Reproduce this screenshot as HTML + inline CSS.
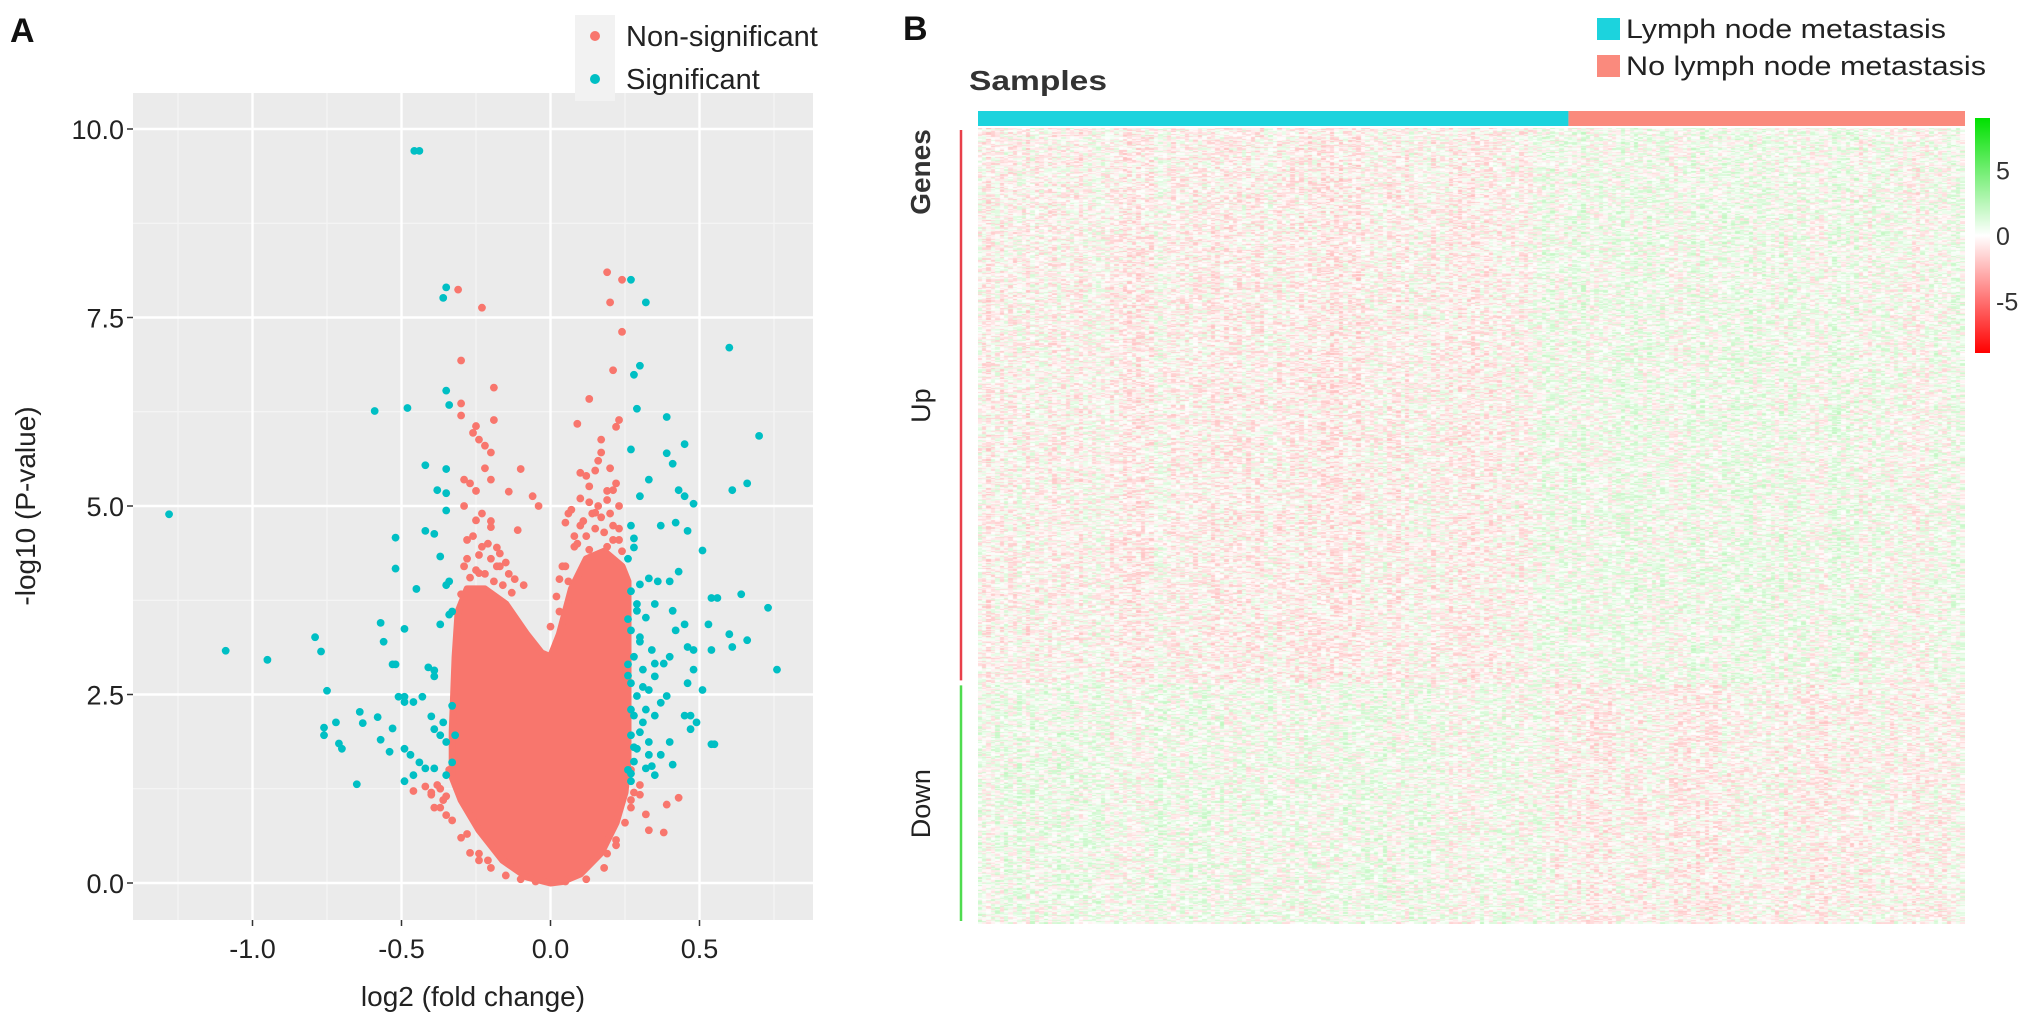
<!DOCTYPE html>
<html><head><meta charset="utf-8">
<style>
html,body{margin:0;padding:0;background:#fff;}
#root{position:relative;width:2031px;height:1029px;overflow:hidden;font-family:"Liberation Sans",sans-serif;}
svg{position:absolute;left:0;top:0;}
#heat{position:absolute;left:978px;top:128px;}
</style></head>
<body>
<div id="root">
<svg id="svg" width="2031" height="1029"></svg>
<canvas id="heat" width="987" height="796"></canvas>
</div>
<script>
// ---------- Panel A data (log2 fold change, -log10 P) ----------
const xTicks = [-1.0, -0.5, 0.0, 0.5];
const yTicks = [0.0, 2.5, 5.0, 7.5, 10.0];
const xTickLabels = ["-1.0", "-0.5", "0.0", "0.5"];
const yTickLabels = ["0.0", "2.5", "5.0", "7.5", "10.0"];
// dense non-significant core (envelope of overlapping points)
const coreX = [0,-0.08,-0.16,-0.24,-0.3,-0.33,-0.33,-0.32,-0.31,-0.28,-0.22,-0.15,-0.08,-0.03,0.0,0.03,0.07,0.12,0.18,0.24,0.26,0.26,0.26,0.25,0.22,0.17,0.1,0.04];
const coreY = [0.0,0.08,0.3,0.7,1.1,1.4,2.0,3.0,3.6,3.9,3.9,3.7,3.3,3.05,3.0,3.3,3.9,4.3,4.4,4.2,4.0,3.0,1.6,1.2,0.8,0.4,0.12,0.02];
const nsX = [-0.31,-0.23,-0.30,-0.19,-0.30,-0.30,-0.25,-0.19,-0.26,-0.24,-0.22,-0.20,-0.10,-0.29,-0.27,-0.20,-0.14,-0.06,-0.04,-0.29,-0.25,-0.20,-0.11,-0.28,-0.23,-0.17,-0.29,-0.24,-0.18,-0.12,-0.09,-0.30,
 0.19,0.24,0.20,0.24,0.21,0.13,0.23,0.09,0.22,0.17,0.17,0.10,0.15,0.13,0.21,0.06,0.05,0.10,0.15,0.21,0.23,0.19,0.08,0.13,0.19,0.23,0.04,0.03,
 -0.46,-0.40,-0.39,-0.33,-0.28,-0.24,-0.21,0.19,0.22,0.30,0.32,0.38,0.43,0.39,0.30,-0.35,-0.37,-0.42,0.27,0.33,
 -0.27,-0.25,-0.22,-0.19,-0.16,-0.13,-0.28,-0.24,-0.2,-0.17,-0.14,-0.26,-0.21,-0.18,-0.15,-0.23,-0.2,-0.25,-0.22,
 0.0,0.03,0.06,0.09,0.12,0.15,0.18,0.21,0.24,0.02,0.05,0.08,0.11,0.14,0.17,0.2,0.23,0.07,0.1,0.13,0.16,0.19,0.22,0.12,0.16,0.2,
 -0.38,-0.36,-0.35,-0.34,-0.4,-0.37,-0.3,-0.27,-0.24,-0.2,-0.15,-0.1,0.12,0.18,0.22,0.25,0.27,0.28,0.27,-0.05,0.05];
const nsY = [7.87,7.63,6.93,6.57,6.36,6.2,6.06,6.14,5.97,5.88,5.8,5.71,5.49,5.35,5.3,5.35,5.19,5.13,5.0,5.0,4.81,4.72,4.68,4.55,4.46,4.37,4.2,4.11,4.2,4.03,3.95,3.83,
 8.1,8.0,7.7,7.31,6.8,6.42,6.14,6.09,6.05,5.88,5.71,5.44,5.47,5.26,5.21,4.9,4.78,4.74,4.91,4.74,5.0,5.08,4.46,4.42,4.46,4.55,4.2,4.03,
 1.22,1.17,1.0,0.83,0.65,0.39,0.3,0.39,0.57,1.17,0.91,0.67,1.13,1.04,1.3,1.15,1.25,1.28,1.1,0.7,
 4.05,4.15,4.1,4.0,3.95,3.85,4.3,4.35,4.3,4.2,4.1,4.6,4.5,4.45,4.25,4.9,4.8,5.2,5.5,
 3.4,3.6,4.0,4.5,4.6,4.7,4.65,4.55,4.4,3.8,4.2,4.6,4.8,4.9,4.85,4.9,4.7,4.95,5.1,5.05,5.0,5.2,5.3,5.4,5.6,5.5,
 1.3,1.1,0.9,1.5,1.2,1.0,0.6,0.4,0.3,0.2,0.1,0.05,0.05,0.2,0.5,0.8,1.0,1.2,1.5,0.02,0.02];
const sigX = [-0.457,-0.44,-1.28,-1.09,-0.95,-0.79,-0.77,-0.75,-0.76,-0.72,-0.76,-0.71,-0.70,-0.65,-0.64,-0.63,-0.58,-0.57,-0.54,-0.53,-0.59,-0.48,
 -0.57,-0.56,-0.49,-0.53,-0.52,-0.51,-0.49,-0.49,-0.46,-0.43,-0.49,-0.46,-0.44,-0.47,-0.49,-0.42,-0.40,-0.39,-0.37,-0.35,-0.36,-0.33,-0.32,-0.39,-0.35,-0.33,
 -0.41,-0.39,-0.39,-0.37,-0.34,-0.33,-0.35,-0.34,-0.52,-0.52,-0.45,-0.42,-0.39,-0.37,-0.42,-0.38,-0.35,-0.35,-0.35,-0.35,-0.34,-0.36,-0.35,
 0.27,0.32,0.28,0.30,0.29,0.60,0.70,0.66,0.61,0.39,0.27,0.39,0.41,0.45,0.33,0.30,0.43,0.45,0.48,0.46,0.42,0.37,0.51,0.27,0.28,
 0.27,0.30,0.33,0.36,0.29,0.32,0.35,0.27,0.30,0.34,0.28,0.31,0.35,0.38,0.27,0.29,0.33,0.37,0.28,0.31,0.35,0.27,0.29,0.33,0.37,0.28,0.32,0.40,0.41,0.35,0.27,
 0.35,0.39,0.40,0.41,0.40,0.43,0.42,0.45,0.46,0.48,0.46,0.48,0.51,0.47,0.49,0.47,0.45,0.54,0.55,0.53,0.54,0.54,0.56,0.60,0.61,0.64,0.66,0.73,0.76,
 0.26,0.26,0.27,0.28,0.26,0.29,0.31,0.30,0.33,0.26,0.28,0.30,0.32,0.34,0.26,0.27];
const sigY = [9.71,9.71,4.89,3.08,2.96,3.26,3.07,2.55,2.06,2.13,1.96,1.85,1.78,1.31,2.27,2.12,2.2,1.9,1.74,2.05,6.26,6.3,
 3.45,3.2,3.37,2.9,2.9,2.47,2.47,2.4,2.4,2.47,1.35,1.43,1.6,1.7,1.78,1.52,2.21,2.04,1.96,1.87,2.13,2.35,1.96,1.52,1.43,1.6,
 2.86,2.74,2.82,3.43,3.56,3.6,3.95,4.0,4.58,4.17,3.9,4.67,4.63,4.33,5.54,5.21,5.17,4.94,5.49,6.53,6.34,7.76,7.9,
 8.0,7.7,6.74,6.86,6.29,7.1,5.93,5.3,5.21,6.18,5.75,5.7,5.56,5.82,5.35,5.13,5.21,5.13,5.03,4.67,4.78,4.74,4.41,4.74,4.57,
 3.87,3.96,4.04,4.0,3.61,3.52,3.7,3.35,3.26,3.09,3.0,2.83,2.74,2.91,2.65,2.48,2.56,2.39,2.22,2.13,2.22,1.96,1.78,1.87,1.7,1.61,1.52,1.87,1.57,1.43,1.35,
 2.91,2.48,3.0,3.61,4.0,4.13,3.35,3.43,3.13,3.09,2.65,2.83,2.56,2.22,2.13,2.04,2.22,1.84,1.84,3.43,3.09,3.78,3.78,3.3,3.13,3.83,3.22,3.65,2.83,
 3.5,2.9,2.3,1.8,1.5,3.7,2.6,2.0,1.7,4.3,4.45,3.2,2.3,1.55,2.75,1.45];

// ---------- Panel B data ----------
const groups = ["Lymph node metastasis", "No lymph node metastasis"];
const groupSamples = [134, 90];
const geneBlocks = ["Up", "Down"];
const geneBlockSizes = [450, 195];
const colorbarTicks = [5, 0, -5];
// coarse per-sample-bin expression bias (mean z) for Up genes; Down genes are the inverse
const sampleBias = [-0.3,-0.25,-0.35,-0.2,-0.3,-0.25,-0.4,-0.3,-0.25,-0.35,-0.45,-0.3,-0.25,-0.2,-0.3,-0.15,
                    0.25,0.35,0.3,0.25,0.4,0.3,0.2,0.25,0.3,0.15,0.1,0.2];

const NS = "http://www.w3.org/2000/svg";
const svg = document.getElementById('svg');
function el(tag, attrs, parent) {
  const e = document.createElementNS(NS, tag);
  for (const k in attrs) e.setAttribute(k, attrs[k]);
  (parent || svg).appendChild(e);
  return e;
}
function txt(s, attrs, parent) { const t = el('text', attrs, parent); t.textContent = s; return t; }

// ---------- Panel A ----------
const PX0 = 133, PX1 = 813, PY0 = 93, PY1 = 920;
const sx = v => 550.5 + v * 298;
const sy = v => 883 - v * 75.4;
const gA = el('g', {});


const bg = el('rect', {x: PX0, y: PY0, width: PX1 - PX0, height: PY1 - PY0, fill: '#EBEBEB'}, gA);


for (let i = 0; i < xTicks.length + 1; i++) {
  const v = (i === 0 ? xTicks[0] - 0.25 : xTicks[i - 1] + 0.25);
  el('line', {x1: sx(v), x2: sx(v), y1: PY0, y2: PY1, stroke: '#F5F5F5', 'stroke-width': 1.2}, gA);
}
for (let i = 0; i < yTicks.length; i++) {
  const v = yTicks[i] + 1.25;
  if (sy(v) > PY0) el('line', {x1: PX0, x2: PX1, y1: sy(v), y2: sy(v), stroke: '#F5F5F5', 'stroke-width': 1.2}, gA);
}
xTicks.forEach((v, i) => {
  const gl = el('line', {x1: sx(v), x2: sx(v), y1: PY0, y2: PY1, stroke: '#fff', 'stroke-width': 2.4}, gA);
  
  
  el('line', {x1: sx(v), x2: sx(v), y1: PY1, y2: PY1 + 6, stroke: '#333', 'stroke-width': 1.5}, gA);
  const t = txt(xTickLabels[i], {x: sx(v), y: PY1 + 38, 'font-size': 27, fill: '#222', 'text-anchor': 'middle'}, gA);
  
  
});
yTicks.forEach((v, i) => {
  const gl = el('line', {x1: PX0, x2: PX1, y1: sy(v), y2: sy(v), stroke: '#fff', 'stroke-width': 2.4}, gA);
  
  
  el('line', {x1: PX0 - 6, x2: PX0, y1: sy(v), y2: sy(v), stroke: '#333', 'stroke-width': 1.5}, gA);
  const t = txt(yTickLabels[i], {x: PX0 - 9, y: sy(v) + 10, 'font-size': 27, fill: '#222', 'text-anchor': 'end'}, gA);
  
  
});
let d = coreX.map((x, i) => (i ? 'L' : 'M') + sx(x).toFixed(1) + ',' + sy(coreY[i]).toFixed(1)).join(' ') + ' Z';
const core = el('path', {d: d, fill: '#F8766D', stroke: '#F8766D', 'stroke-width': 7, 'stroke-linejoin': 'round'}, gA);


nsX.forEach((x, i) => {
  const c = el('circle', {cx: sx(x), cy: sy(nsY[i]), r: 3.9, fill: '#F8766D'}, gA);
  
  
});
sigX.forEach((x, i) => {
  const c = el('circle', {cx: sx(x), cy: sy(sigY[i]), r: 3.9, fill: '#00BFC4'}, gA);
  
  
});
let t;
t = txt('log2 (fold change)', {x: 473, y: 1006, 'font-size': 28, fill: '#222', 'text-anchor': 'middle'});
 
t = txt('-log10 (P-value)', {x: 0, y: 0, 'font-size': 28, fill: '#222', 'text-anchor': 'middle', transform: 'translate(35,506) rotate(-90)'});
 
t = txt('A', {x: 10, y: 42, 'font-size': 34, 'font-weight': 'bold', fill: '#111'});
 
const lgA = el('g', {});
 
el('rect', {x: 575, y: 15, width: 40, height: 43, fill: '#F2F2F2'}, lgA);
el('rect', {x: 575, y: 58, width: 40, height: 43, fill: '#F2F2F2'}, lgA);
el('circle', {cx: 595, cy: 36, r: 5, fill: '#F8766D'}, lgA);
el('circle', {cx: 595, cy: 79, r: 5, fill: '#00BFC4'}, lgA);
t = txt('Non-significant', {x: 626, y: 46, 'font-size': 29, fill: '#222'}, lgA);
 
t = txt('Significant', {x: 626, y: 89, 'font-size': 29, fill: '#222'}, lgA);
 

// ---------- Panel B ----------
const HX0 = 978, HX1 = 1965, HY0 = 128, HY1 = 924;
t = txt('B', {x: 903, y: 40, 'font-size': 34, 'font-weight': 'bold', fill: '#111'});
 
const groupColors = ['#1CD3DD', '#FA8A7D'];
const totalS = groupSamples.reduce((a, b) => a + b, 0);
let cx = HX0;
groupSamples.forEach((n, i) => {
  const w = n / totalS * (HX1 - HX0);
  const r = el('rect', {x: cx, y: 111, width: w, height: 15, fill: groupColors[i]});
  
  
  cx += w;
});
[0, 1].forEach(i => {
  const y = [18, 55][i];
  el('rect', {x: 1597, y: y, width: 23, height: 22, fill: groupColors[i]});
  const tt = txt(groups[i], {x: 1626, y: y + 20, 'font-size': 27, fill: '#222', textLength: [320, 360][i], lengthAdjust: 'spacingAndGlyphs'});
  
  
});
t = txt('Samples', {x: 969, y: 90, 'font-size': 28, 'font-weight': 'bold', fill: '#333', textLength: 138, lengthAdjust: 'spacingAndGlyphs'});
 
t = txt('Genes', {x: 0, y: 0, 'font-size': 28, 'font-weight': 'bold', fill: '#333', 'text-anchor': 'middle', transform: 'translate(930,172) rotate(-90)'});
 
const totalG = geneBlockSizes.reduce((a, b) => a + b, 0);
let gy = HY0;
const blockCol = ['#E8404A', '#4FDB4F'];
geneBlockSizes.forEach((n, i) => {
  const h = n / totalG * (HY1 - HY0);
  const ln = el('line', {x1: 961, x2: 961, y1: gy + 2, y2: gy + h - 3, stroke: blockCol[i], 'stroke-width': 2.5});
  
  
  const tt = txt(geneBlocks[i], {x: 0, y: 0, 'font-size': 27, fill: '#222', 'text-anchor': 'middle', transform: 'translate(930,' + (gy + h / 2) + ') rotate(-90)'});
  
  
  gy += h;
});
const defs = el('defs', {});
const lg = el('linearGradient', {id: 'cb', x1: 0, y1: 0, x2: 0, y2: 1}, defs);
el('stop', {offset: '0', 'stop-color': '#00E000'}, lg);
el('stop', {offset: '0.5', 'stop-color': '#FFFFFF'}, lg);
el('stop', {offset: '1', 'stop-color': '#FF0000'}, lg);
const cb = el('rect', {x: 1975, y: 118, width: 15, height: 235, fill: 'url(#cb)'});
 
const cbY = v => 236 - v * 13.1;
colorbarTicks.forEach(v => {
  const tt = txt(String(v), {x: 1996, y: cbY(v) + 9, 'font-size': 25, fill: '#333'});
  
  
});

const cv = document.getElementById('heat');
const ctx = cv.getContext('2d');
const W = 987, H = 796;
const img = ctx.createImageData(W, H);
function hash(a, b) { let h = (a * 374761393 + b * 668265263) | 0; h = (h ^ (h >>> 13)) * 1274126177 | 0; return ((h ^ (h >>> 16)) >>> 0) / 4294967296; }
const colW = W / totalS, rowH = H / totalG;
const upRows = geneBlockSizes[0];
for (let s = 0; s < totalS; s++) {
  const bin = Math.floor(s / totalS * sampleBias.length);
  const colJ = (hash(s, 999) - 0.5) * 0.8;
  for (let g = 0; g < totalG; g++) {
    let v = (g < upRows ? sampleBias[bin] : -sampleBias[bin]) + colJ + (hash(s, g) - 0.5) * 3.2;
    const a = Math.min(1, Math.abs(v) / 9);
    let r, gg, b;
    if (v >= 0) { r = 255 - 255 * a; gg = 255 - 31 * a; b = 255 - 255 * a; }
    else { r = 255; gg = 255 - 255 * a; b = 255 - 255 * a; }
    const x0 = Math.floor(s * colW), x1 = Math.floor((s + 1) * colW);
    const y0 = Math.floor(g * rowH), y1 = Math.floor((g + 1) * rowH);
    for (let y = y0; y < y1; y++) for (let x = x0; x < x1; x++) {
      const k = (y * W + x) * 4;
      img.data[k] = r; img.data[k + 1] = gg; img.data[k + 2] = b; img.data[k + 3] = 255;
    }
  }
}
ctx.putImageData(img, 0, 0);
</script>
</body></html>
